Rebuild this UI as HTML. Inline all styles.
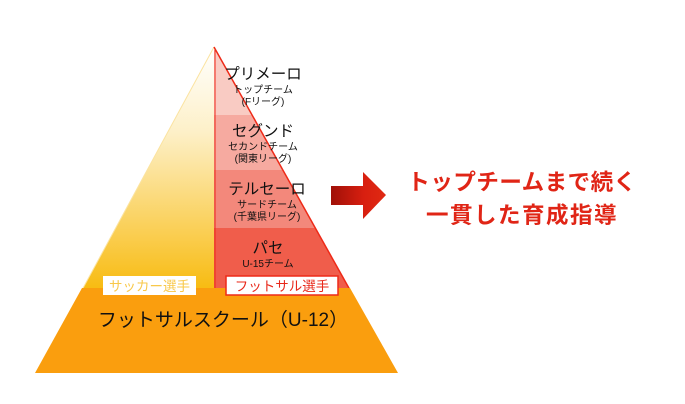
<!DOCTYPE html>
<html><head><meta charset="utf-8"><style>
html,body{margin:0;padding:0;background:#fff;}
svg{display:block;font-family:"Liberation Sans","Noto Sans CJK JP",sans-serif;}
</style></head><body>
<svg width="685" height="404" viewBox="0 0 685 404" xmlns="http://www.w3.org/2000/svg">
<defs>
<linearGradient id="yg" x1="0" y1="0" x2="0" y2="1">
<stop offset="0" stop-color="#ffffff"/><stop offset="0.35" stop-color="#fdf0c8"/><stop offset="1" stop-color="#f8bb10"/>
</linearGradient>
<linearGradient id="ag" x1="0" y1="0" x2="1" y2="0">
<stop offset="0" stop-color="#a01008"/><stop offset="0.6" stop-color="#d81f10"/><stop offset="1" stop-color="#e02a12"/>
</linearGradient>
<clipPath id="rc"><polygon points="214,47 350,290 214,290"/></clipPath>
</defs>
<polygon points="214,47 214,290 82,290" fill="url(#yg)"/>
<line x1="214" y1="47" x2="82" y2="290" stroke="#fbe3a0" stroke-width="1"/>
<g clip-path="url(#rc)">
<rect x="214" y="47" width="140" height="68" fill="#f9cbc3"/>
<rect x="214" y="115" width="140" height="55" fill="#f6aaa0"/>
<rect x="214" y="170" width="140" height="58" fill="#f3887b"/>
<rect x="214" y="228" width="140" height="62" fill="#f05d4b"/>
</g>
<line x1="214" y1="47" x2="350" y2="290" stroke="#ee2a18" stroke-width="1.5"/>
<line x1="215" y1="50" x2="215" y2="290" stroke="#ee2a18" stroke-width="1"/>
<polygon points="82,288 350,288 398,373 35,373" fill="#fa9e0e"/>
<g text-anchor="middle" fill="#111">
<text x="263" y="79" font-size="15.5">プリメーロ</text>
<text x="263" y="93" font-size="10">トップチーム</text>
<text x="263" y="105" font-size="10">(Fリーグ)</text>
<text x="263" y="136" font-size="15.5">セグンド</text>
<text x="263" y="150" font-size="10">セカンドチーム</text>
<text x="263" y="162" font-size="10">(関東リーグ)</text>
<text x="267" y="194" font-size="15.5">テルセーロ</text>
<text x="267" y="208" font-size="10">サードチーム</text>
<text x="267" y="220" font-size="10">(千葉県リーグ)</text>
<text x="268" y="253" font-size="15.5">パセ</text>
<text x="268" y="267" font-size="10">U-15チーム</text>
<text x="223" y="326" font-size="19">フットサルスクール（U-12）</text>
</g>
<rect x="103" y="276" width="93" height="19" fill="#fff"/>
<text x="149.5" y="291" font-size="13.5" text-anchor="middle" fill="#f8c84a">サッカー選手</text>
<rect x="226" y="276" width="112" height="19" fill="#fff" stroke="#ee2a18" stroke-width="1.5"/>
<text x="282" y="291" font-size="13.5" text-anchor="middle" fill="#e8281a">フットサル選手</text>
<polygon points="331,186 363,186 363,172 386,195 363,219 363,205 331,205" fill="url(#ag)"/>
<g text-anchor="middle" fill="#e02516" font-weight="bold" font-size="22.5" letter-spacing="0.5">
<text x="522" y="190">トップチームまで続く</text>
<text x="522" y="223" letter-spacing="1.5">一貫した育成指導</text>
</g>
</svg>
</body></html>
